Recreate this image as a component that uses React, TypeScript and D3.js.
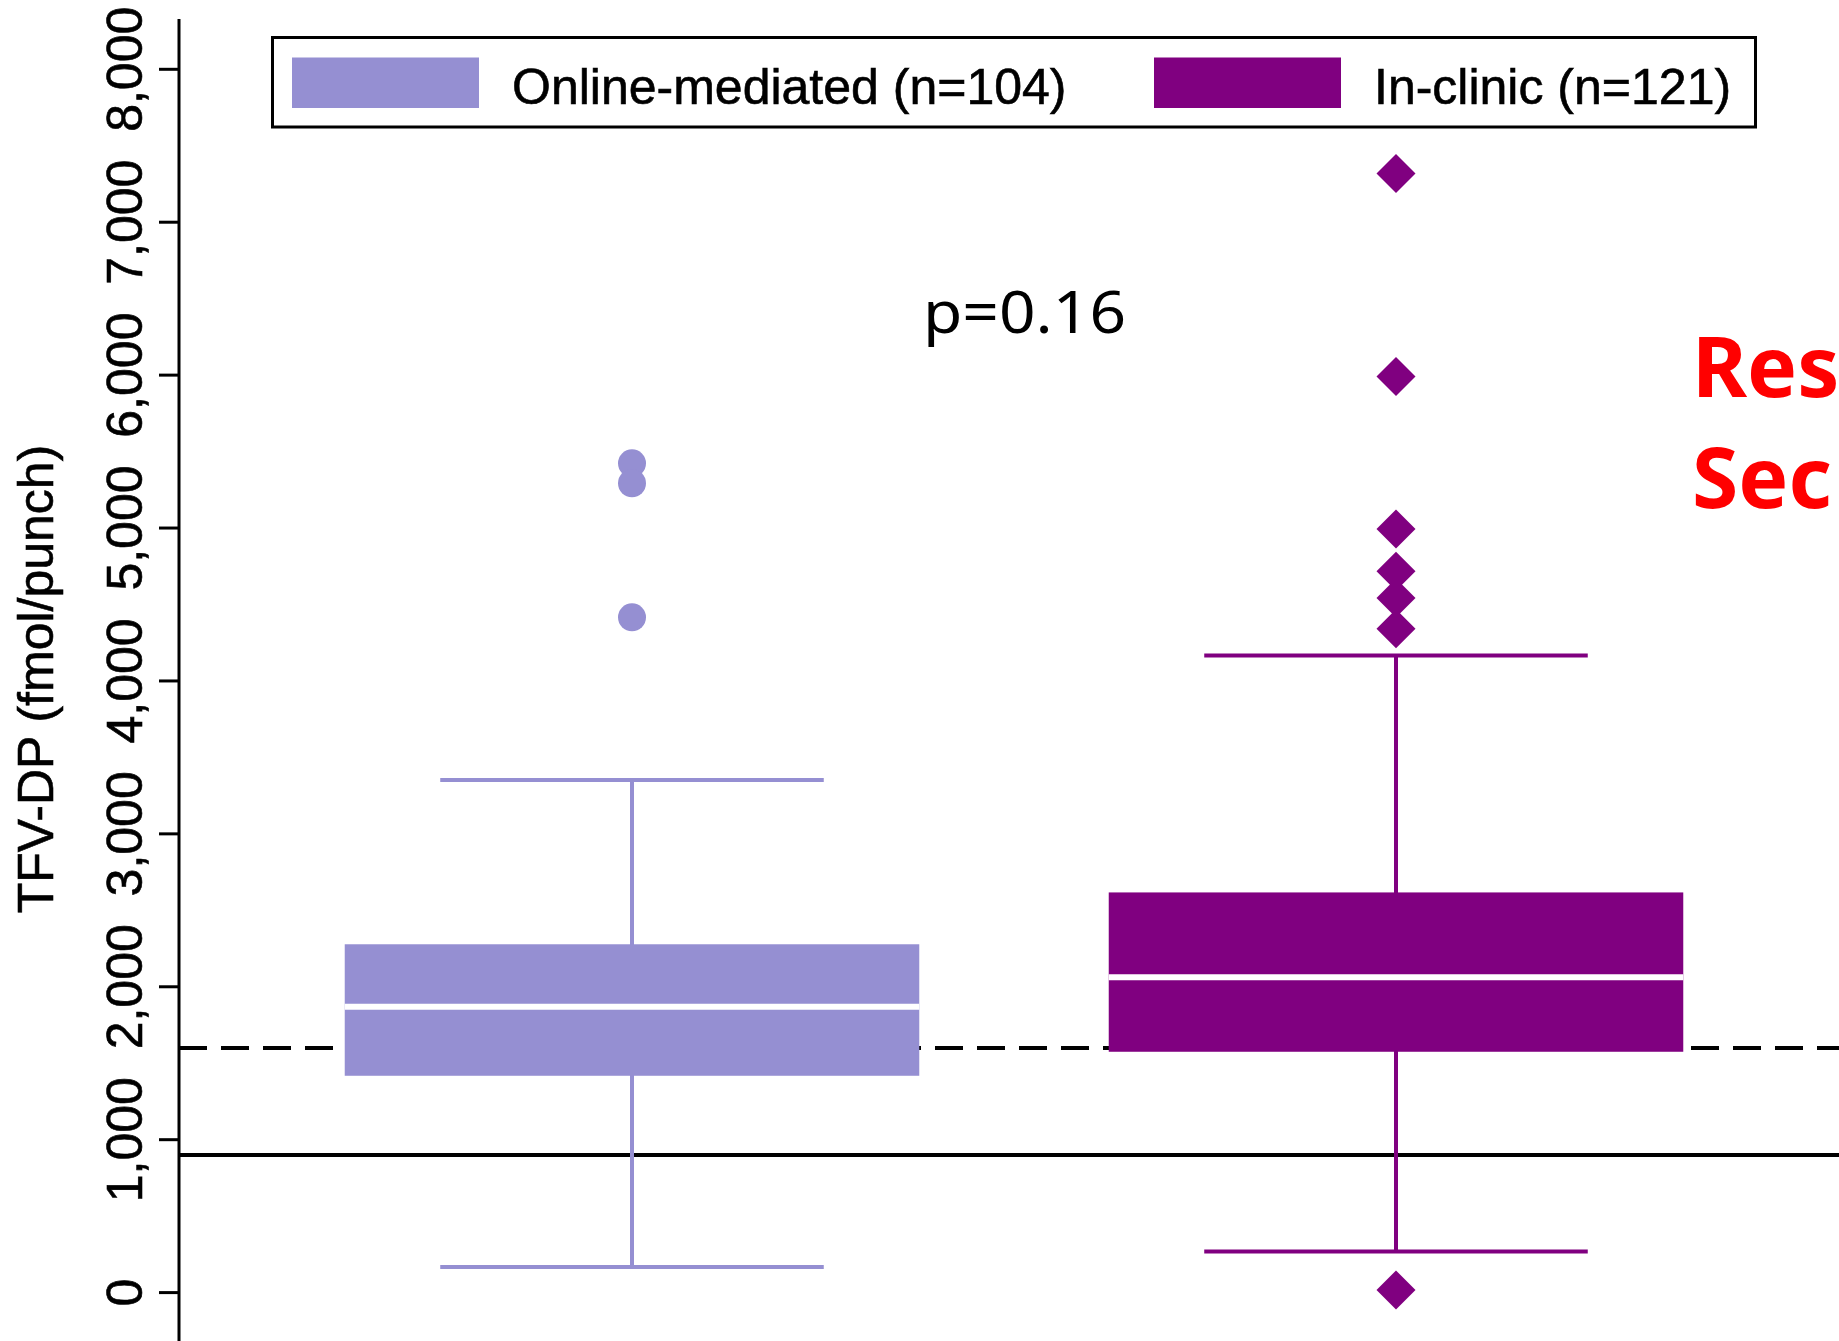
import React from "react";
import * as d3 from "d3";

const groups = ["Online-mediated", "In-clinic"];
const groupN = [104, 121];
const groupColors = ["#958fd2", "#800080"];
const q1 = [1418, 1575];
const medians = [1870, 2062];
const q3 = [2278, 2617];
const whiskerLow = [167, 269];
const whiskerHigh = [3352, 4166];
const onlineOutliers = [5423, 5293, 4416];
const clinicOutliers = [7318, 5991, 4994, 4718, 4542, 4342, 17];
const dashedRef = 1600;
const solidRef = 900;
const pLabel = "p=0.16";
const sideNotes = ["Res", "Sec"];

const W = 1839;
const H = 1341;
const axisX = 179;
const font = "'Liberation Sans', Arial, sans-serif";

export default function App() {
  const y = d3.scaleLinear().domain([0, 8000]).range([1292.6, 69.3]);
  const x = d3.scalePoint<string>().domain(groups).range([632, 1396]);
  const step = x(groups[1])! - x(groups[0])!;
  const boxW = step * 0.752;
  const capW = step * 0.502;
  const fmt = d3.format(",");
  const outliers = [onlineOutliers, clinicOutliers];

  return (
    <svg
      width={W}
      height={H}
      viewBox={`0 0 ${W} ${H}`}
      style={{ position: "absolute", left: 0, top: 0, display: "block", background: "#fff" }}
    >
      <rect width={W} height={H} fill="#fff" />

      {/* reference lines */}
      <line x1={axisX} x2={W} y1={y(dashedRef)} y2={y(dashedRef)} stroke="#000" strokeWidth={4} strokeDasharray="28 14" />
      <line x1={axisX} x2={W} y1={y(solidRef)} y2={y(solidRef)} stroke="#000" strokeWidth={4} />

      {groups.map((g, i) => {
        const cx = x(g)!;
        const c = groupColors[i];
        return (
          <g key={g}>
            <line x1={cx} x2={cx} y1={y(whiskerHigh[i])} y2={y(whiskerLow[i])} stroke={c} strokeWidth={4} />
            <line x1={cx - capW / 2} x2={cx + capW / 2} y1={y(whiskerHigh[i])} y2={y(whiskerHigh[i])} stroke={c} strokeWidth={4} />
            <line x1={cx - capW / 2} x2={cx + capW / 2} y1={y(whiskerLow[i])} y2={y(whiskerLow[i])} stroke={c} strokeWidth={4} />
            <rect x={cx - boxW / 2} width={boxW} y={y(q3[i])} height={y(q1[i]) - y(q3[i])} fill={c} />
            <line x1={cx - boxW / 2} x2={cx + boxW / 2} y1={y(medians[i])} y2={y(medians[i])} stroke="#fff" strokeWidth={6} />
            {outliers[i].map((v, k) =>
              i === 0 ? (
                <circle key={k} cx={cx} cy={y(v)} r={14} fill={c} />
              ) : (
                <path key={k} d={d3.symbol(d3.symbolSquare, 2 * 19.5 * 19.5)()!} transform={`translate(${cx},${y(v)}) rotate(45)`} fill={c} />
              )
            )}
          </g>
        );
      })}

      {/* y axis */}
      <line x1={axisX} x2={axisX} y1={19} y2={H} stroke="#000" strokeWidth={3} />
      {y.ticks(8).map((t) => (
        <g key={t}>
          <line x1={159} x2={axisX} y1={y(t)} y2={y(t)} stroke="#000" strokeWidth={3} />
          <text
            transform={`translate(142,${y(t)}) rotate(-90)`}
            textAnchor="middle"
            fontFamily={font}
            fontSize={50}
            fill="#000"
            stroke="#000"
            strokeWidth={0.6}
          >
            {fmt(t)}
          </text>
        </g>
      ))}
      <text
        transform={`translate(53,679) rotate(-90)`}
        textAnchor="middle"
        fontFamily={font}
        fontSize={50}
        fill="#000"
        stroke="#000"
        strokeWidth={0.6}
      >
        TFV-DP (fmol/punch)
      </text>

      {/* legend */}
      <rect x={272.5} y={37.5} width={1483} height={89.5} fill="#fff" stroke="#000" strokeWidth={3} />
      {groups.map((g, i) => {
        const sx = i === 0 ? 292 : 1154;
        return (
          <g key={g}>
            <rect x={sx} y={57.5} width={187} height={50.5} fill={groupColors[i]} />
            <text x={sx + 220} y={104} fontFamily={font} fontSize={50} fill="#000" stroke="#000" strokeWidth={0.6}>
              {`${g} (n=${groupN[i]})`}
            </text>
          </g>
        );
      })}

      <text x={923} y={333} fontFamily="'Noto Sans', 'Open Sans', sans-serif" fontSize={58} textLength={203} lengthAdjust="spacingAndGlyphs" fill="#000">
        {pLabel}
      </text>

      {sideNotes.map((s, i) => (
        <text key={s} x={1692} y={397 + i * 111} fontFamily="'Noto Sans', 'Open Sans', sans-serif" fontWeight="bold" fontSize={84} fill="#ff0000">
          {s}
        </text>
      ))}
    </svg>
  );
}
